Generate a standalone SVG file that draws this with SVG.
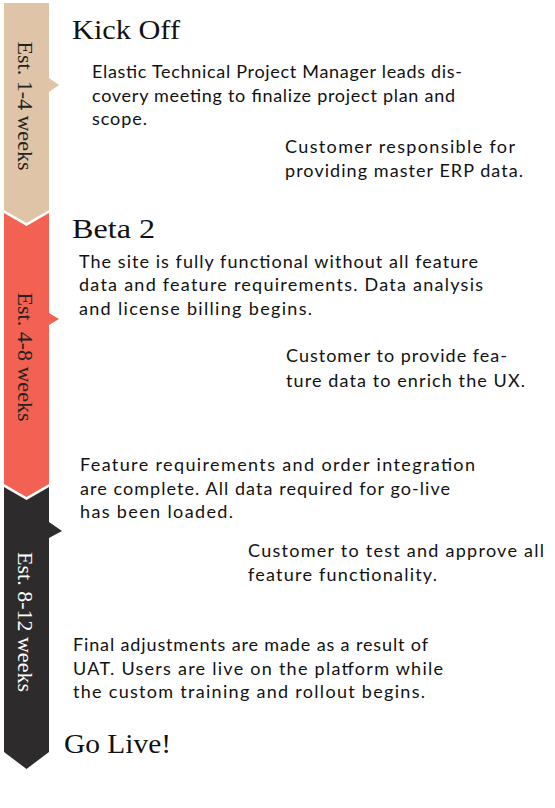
<svg xmlns="http://www.w3.org/2000/svg" width="555" height="808" viewBox="0 0 555 808">
<style>
.bar-label{font-family:"Liberation Serif","DejaVu Serif",serif;font-size:22px;text-anchor:middle}
.heading{font-family:"Liberation Serif","DejaVu Serif",serif;font-size:28px;fill:#111}
.body{font-family:Lato,"Open Sans","Liberation Sans",sans-serif;font-size:18px;fill:#111}
</style>
<rect width="555" height="808" fill="#ffffff"/>
<g id="phase-kickoff">
<polygon points="4,3 49,3 49,78 59,85 49,92 49,210 26.5,223 4,210" fill="#E0C4A8"/>
<text class="bar-label" fill="#222" transform="translate(18,106) rotate(90)">Est. 1-4 weeks</text>
</g>
<g id="phase-beta">
<polygon points="4,213 26.5,226 49,213 49,313 59,319 49,325 49,484 26.5,497 4,484" fill="#F26152"/>
<text class="bar-label" fill="#222" transform="translate(18,357) rotate(90)">Est. 4-8 weeks</text>
</g>
<g id="phase-golive">
<polygon points="4,487 26.5,500 49,487 49,522 62,531 49,538 49,752 26.5,769 4,752" fill="#2D2B2C"/>
<text class="bar-label" fill="#ffffff" transform="translate(18,622) rotate(90)">Est. 8-12 weeks</text>
</g>
<g id="connectors"></g>
<g id="kickoff-text">
<text class="heading" x="72" y="39" textLength="108" lengthAdjust="spacingAndGlyphs">Kick Off</text>
<text class="body" x="92" y="78" textLength="370">Elastic Technical Project Manager leads dis-</text>
<text class="body" x="92" y="102" textLength="363">covery meeting to finalize project plan and</text>
<text class="body" x="92" y="125" textLength="55">scope.</text>
<text class="body" x="285" y="153" textLength="230">Customer responsible for</text>
<text class="body" x="285" y="177" textLength="238">providing master ERP data.</text>
</g>
<g id="beta-text">
<text class="heading" x="72" y="238" textLength="83" lengthAdjust="spacingAndGlyphs">Beta 2</text>
<text class="body" x="79" y="268" textLength="399">The site is fully functional without all feature</text>
<text class="body" x="79" y="291" textLength="404">data and feature requirements. Data analysis</text>
<text class="body" x="79" y="315" textLength="233">and license billing begins.</text>
<text class="body" x="286" y="362" textLength="221">Customer to provide fea-</text>
<text class="body" x="286" y="387" textLength="239">ture data to enrich the UX.</text>
</g>
<g id="feature-text">
<text class="body" x="80" y="471" textLength="395">Feature requirements and order integration</text>
<text class="body" x="80" y="495" textLength="370">are complete. All data required for go-live</text>
<text class="body" x="80" y="518" textLength="153">has been loaded.</text>
<text class="body" x="248" y="557" textLength="296">Customer to test and approve all</text>
<text class="body" x="248" y="581" textLength="189">feature functionality.</text>
</g>
<g id="golive-text">
<text class="body" x="73" y="651" textLength="355">Final adjustments are made as a result of</text>
<text class="body" x="73" y="675" textLength="370">UAT. Users are live on the platform while</text>
<text class="body" x="73" y="698" textLength="352">the custom training and rollout begins.</text>
<text class="heading" x="64" y="753" textLength="107" lengthAdjust="spacingAndGlyphs">Go Live!</text>
</g>
</svg>
